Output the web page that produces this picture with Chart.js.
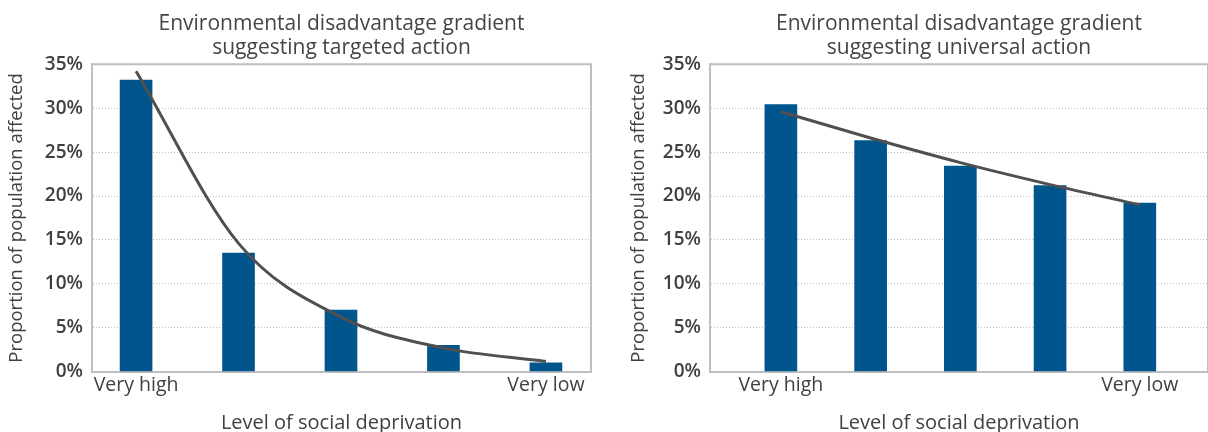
<!DOCTYPE html>
<html>
<head>
<meta charset="utf-8">
<script src="https://cdn.jsdelivr.net/npm/chart.js@4/dist/chart.umd.min.js"></script>
<style>
  body { margin: 0; background: #fff; }
  #wrap { width: 1208px; height: 432px; overflow: hidden; position: relative; }
  canvas { position: absolute; top: 0; }
  #left { left: 0; }
  #right { left: 600px; }
</style>
</head>
<body>
<div id="wrap">
  <canvas id="left" width="600" height="437"></canvas>
  <canvas id="right" width="608" height="437"></canvas>
</div>
<script>
const categories = ['Very high', '', '', '', 'Very low'];
const targetedBars = [33.2, 13.5, 7.0, 3.0, 1.0];
const targetedTrend = [34.2, 14.6, 6.2, 2.7, 1.15];
const universalBars = [30.4, 26.3, 23.4, 21.2, 19.2];
const universalTrend = [29.6, 26.6, 23.8, 21.3, 19.0];
const yTicks = [0, 5, 10, 15, 20, 25, 30, 35];

const TEXT = '#404040';
const GRID = '#bfbfbf';
const BAR = '#00558c';
const FONT = "'Open Sans', sans-serif";

// top + right edge of the plot box
const boxPlugin = {
  id: 'box',
  beforeDatasetsDraw(chart) {
    const { ctx, chartArea: a } = chart;
    ctx.save();
    ctx.strokeStyle = GRID;
    ctx.lineWidth = 2;
    ctx.beginPath();
    ctx.moveTo(a.left, a.top);
    ctx.lineTo(a.right, a.top);
    ctx.lineTo(a.right, a.bottom);
    ctx.stroke();
    ctx.restore();
  }
};

function makeChart(id, title, bars, trend, xMin, xMax, padLeft, padRight, yWidth) {
  const pts = arr => arr.map((v, i) => ({ x: i, y: v }));
  return new Chart(document.getElementById(id), {
    type: 'bar',
    data: {
      datasets: [
        {
          type: 'line',
          data: pts(trend),
          borderColor: '#505050',
          borderWidth: 3,
          pointRadius: 0,
          cubicInterpolationMode: 'monotone',
          order: 0
        },
        {
          data: pts(bars),
          backgroundColor: BAR,
          barThickness: 32,
          order: 1
        }
      ]
    },
    options: {
      responsive: false,
      animation: false,
      layout: { padding: { left: padLeft, right: padRight, top: 0, bottom: 2 } },
      plugins: {
        legend: { display: false },
        tooltip: { enabled: false },
        title: {
          display: true,
          text: title,
          fullSize: false,
          color: '#454545',
          font: { family: FONT, size: 21, weight: '500', lineHeight: 1.15 },
          padding: { top: 12, bottom: 4 }
        }
      },
      scales: {
        x: {
          type: 'linear',
          offset: false,
          min: xMin,
          max: xMax,
          afterBuildTicks: s => { s.ticks = categories.map((c, i) => ({ value: i })); },
          grid: { display: false, drawTicks: false },
          border: { color: GRID, width: 2 },
          ticks: {
            callback: v => categories[v],
            color: TEXT,
            font: { family: FONT, size: 19.5, weight: '500' },
            padding: 2,
            maxRotation: 0,
            autoSkip: false
          },
          title: {
            display: true,
            text: 'Level of social deprivation',
            color: TEXT,
            font: { family: FONT, size: 20, weight: '500' },
            padding: { top: 12, bottom: 0 }
          }
        },
        y: {
          min: 0,
          max: 35,
          afterBuildTicks: s => { s.ticks = yTicks.map(v => ({ value: v })); },
          afterFit: s => { s.width = yWidth; },
          grid: { color: GRID, lineWidth: 1, drawTicks: false },
          border: { color: GRID, width: 2, dash: [1, 2] },
          ticks: {
            callback: v => v + '%',
            color: TEXT,
            font: { family: FONT, size: 19, weight: '600' },
            padding: 9
          },
          title: {
            display: true,
            text: 'Proportion of population affected',
            color: TEXT,
            font: { family: FONT, size: 18.5, weight: '500' },
            padding: { top: 6, bottom: 0 }
          }
        }
      }
    },
    plugins: [boxPlugin]
  });
}

makeChart('left', ['Environmental disadvantage gradient', 'suggesting targeted action'],
  targetedBars, targetedTrend, -0.43, 4.44, 0, 9, 92);
makeChart('right', ['Environmental disadvantage gradient', 'suggesting universal action'],
  universalBars, universalTrend, -0.79, 4.76, 22, 0, 88);
</script>
</body>
</html>
